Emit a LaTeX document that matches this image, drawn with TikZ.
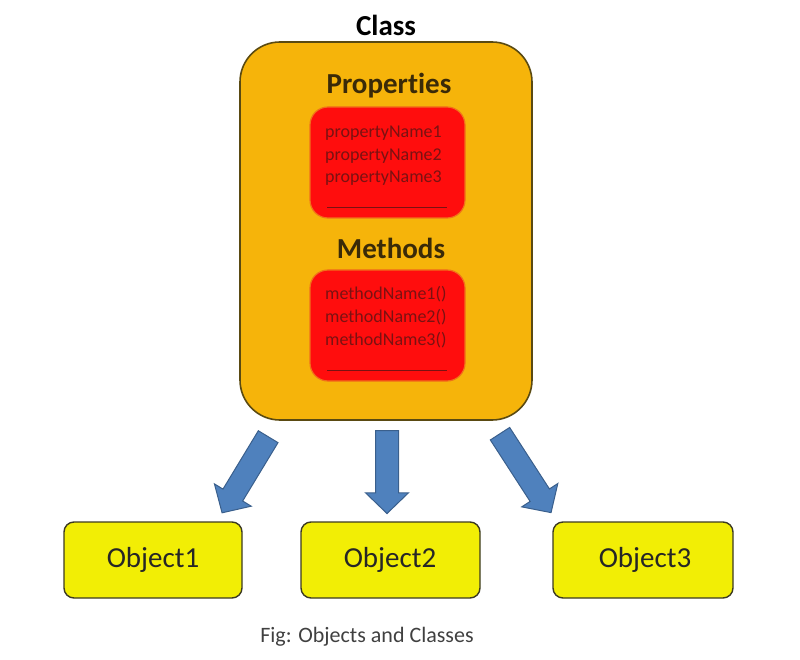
\documentclass[tikz,border=0pt]{standalone}
\usepackage{fontspec}
\setmainfont{Carlito}[Ligatures={NoCommon}]
\usetikzlibrary{shapes.arrows}
\definecolor{clsfill}{HTML}{F6B40A}
\definecolor{clsdraw}{HTML}{5A4A12}
\definecolor{redfill}{HTML}{FF0D0D}
\definecolor{reddraw}{HTML}{F0701A}
\definecolor{redtext}{HTML}{7A1212}
\definecolor{objfill}{HTML}{F2EE05}
\definecolor{objdraw}{HTML}{3C3A22}
\definecolor{arrfill}{HTML}{4F81BD}
\definecolor{arrdraw}{HTML}{3A5F8C}
\definecolor{headtext}{HTML}{3A2A08}
\tikzset{
  clsbox/.style={draw=clsdraw, line width=1.6pt, fill=clsfill, rounded corners=40pt},
  redbox/.style={draw=reddraw, line width=1.2pt, fill=redfill, rounded corners=18pt},
  objbox/.style={draw=objdraw, line width=1.4pt, fill=objfill, rounded corners=10pt},
  head/.style={font=\fontsize{29}{33}\selectfont\bfseries, text=headtext, inner sep=0pt},
  member/.style={font=\fontsize{18}{22}\selectfont, text=redtext, inner sep=0pt, anchor=west},
  objtext/.style={font=\fontsize{29}{33}\selectfont, text=black!85, inner sep=0pt},
  blockarrow/.style={single arrow, draw=arrdraw, line width=1pt, fill=arrfill,
    inner sep=11pt, single arrow head extend=10pt, single arrow head indent=0pt,
    single arrow tip angle=92}
}
\begin{document}
\begin{tikzpicture}[x=1pt,y=-1pt]
\useasboundingbox (0,0) rectangle (800,660);
% class
\node[font=\fontsize{29}{33}\selectfont\bfseries, inner sep=0pt] (title) at (386,25) {Class};
\draw[clsbox] (240,42) rectangle (532,420);
\node[inner sep=0pt] (cls) at (386,231) {};
\node[head] (props) at (389,86) {Properties};
\draw[redbox] (310,107) rectangle (465,218);
\node[member] (p1) at (325,133) {propertyName1};
\node[member] (p2) at (325,156) {propertyName2};
\node[member] (p3) at (325,178) {propertyName3};
\draw[redtext, line width=0.8pt] (327,207) -- (447,207);
\node[head] (meth) at (391,248) {Methods};
\draw[redbox] (310,270) rectangle (465,381);
\node[member] (m1) at (325,294) {methodName1()};
\node[member] (m2) at (325,317) {methodName2()};
\node[member] (m3) at (325,340) {methodName3()};
\draw[redtext, line width=0.8pt] (327,370) -- (447,370);
% arrows
\node[blockarrow, minimum height=89pt, rotate=238.8] (a1) at (248,470) {};
\node[blockarrow, minimum height=83pt, rotate=270] (a2) at (387,466.5) {};
\node[blockarrow, minimum height=94pt, rotate=302.9] (a3) at (522.5,468.5) {};
% objects
\draw[objbox] (64,522) rectangle (242,598);
\node[objtext] (o1) at (153,560) {Object1};
\draw[objbox] (301,522) rectangle (480,598);
\node[objtext] (o2) at (390,560) {Object2};
\draw[objbox] (553,522) rectangle (733,598);
\node[objtext] (o3) at (645,560) {Object3};
% caption
\node[font=\fontsize{22}{26}\selectfont, text=black!75, inner sep=0pt] (cap) at (367,637) {Fig: Objects and Classes};
\end{tikzpicture}
\end{document}
